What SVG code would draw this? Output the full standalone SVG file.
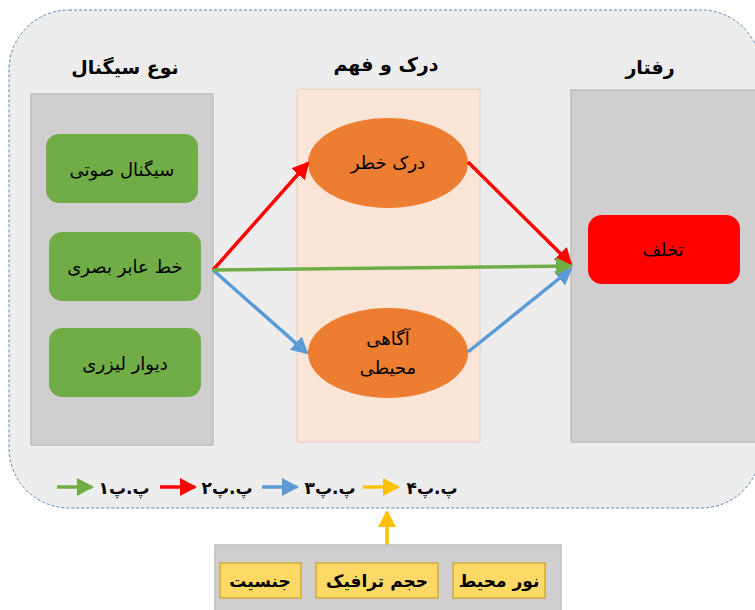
<svg xmlns="http://www.w3.org/2000/svg" width="755" height="610" viewBox="0 0 755 610">
<style>
.t{font-family:"DejaVu Sans","Noto Sans",sans-serif;fill:#000;text-anchor:middle;direction:rtl}
.h{font-size:19px;font-weight:bold}
.n{font-size:18px}
.b{font-size:17px;font-weight:bold}
.col{fill:#d0cece;stroke:#bfbfbf;stroke-width:1.5}
.grn{fill:#70ad47}
.ell{fill:#ed7d31}
.yel{fill:#ffd966;stroke:#c9a227;stroke-width:1.2}
.ln{fill:none;stroke-width:3.5}
</style>
<defs>
<marker id="mr" markerUnits="userSpaceOnUse" markerWidth="20" markerHeight="20" refX="15" refY="10" orient="auto"><path d="M0,1 L17,10 L0,19 z" fill="#ff0000"/></marker>
<marker id="mb" markerUnits="userSpaceOnUse" markerWidth="20" markerHeight="20" refX="15" refY="10" orient="auto"><path d="M0,1 L17,10 L0,19 z" fill="#5b9bd5"/></marker>
<marker id="mg" markerUnits="userSpaceOnUse" markerWidth="20" markerHeight="20" refX="15" refY="10" orient="auto"><path d="M0,1 L17,10 L0,19 z" fill="#70ad47"/></marker>
<marker id="my" markerUnits="userSpaceOnUse" markerWidth="20" markerHeight="20" refX="15" refY="10" orient="auto"><path d="M0,1 L17,10 L0,19 z" fill="#ffc000"/></marker>
</defs>
<rect width="755" height="610" fill="#ffffff"/>
<g id="frame">
<rect x="9" y="10" width="752" height="498" rx="60" ry="60" fill="#ededed" stroke="#5b86b0" stroke-width="1" stroke-dasharray="3,2"/>
</g>
<g id="headers">
<text class="t h" x="125" y="74">نوع سیگنال</text>
<text class="t h" x="386" y="71">درک و فهم</text>
<text class="t h" x="650" y="74">رفتار</text>
</g>
<g id="col-signal"><rect class="col" x="31" y="94" width="182" height="351"/></g>
<g id="col-perception"><rect x="297" y="89" width="183" height="353" fill="#fbe5d6" stroke="#e0cfc2" stroke-width="1"/></g>
<g id="col-behavior"><rect class="col" x="571" y="90" width="190" height="352"/></g>
<g id="n-audio"><rect class="grn" x="46" y="134" width="152" height="69" rx="13"/><text class="t n" x="122" y="176">سیگنال صوتی</text></g>
<g id="n-visual"><rect class="grn" x="49" y="232" width="152" height="69" rx="13"/><text class="t n" x="125" y="273">خط عابر بصری</text></g>
<g id="n-laser"><rect class="grn" x="49" y="328" width="152" height="69" rx="13"/><text class="t n" x="125" y="370">دیوار لیزری</text></g>
<g id="n-risk"><ellipse class="ell" cx="388" cy="163" rx="80" ry="45"/><text class="t n" x="388" y="169">درک خطر</text></g>
<g id="n-aware"><ellipse class="ell" cx="388" cy="353" rx="80" ry="45"/><text class="t n" x="388" y="345">آگاهی</text><text class="t n" x="388" y="374">محیطی</text></g>
<g id="n-violation"><rect x="588" y="215" width="152" height="69" rx="14" fill="#ff0000"/><text class="t n" x="663" y="256">تخلف</text></g>
<g id="connectors">
<line class="ln" x1="213" y1="270" x2="308" y2="163" stroke="#ff0000" marker-end="url(#mr)"/>
<line class="ln" x1="213" y1="270" x2="307" y2="353" stroke="#5b9bd5" marker-end="url(#mb)"/>
<line class="ln" x1="468" y1="162" x2="571" y2="264" stroke="#ff0000" marker-end="url(#mr)"/>
<line class="ln" x1="468" y1="352" x2="571" y2="269" stroke="#5b9bd5" marker-end="url(#mb)"/>
<line class="ln" x1="213" y1="270" x2="571" y2="266" stroke="#70ad47" marker-end="url(#mg)"/>
<line class="ln" x1="387" y1="545" x2="387" y2="512" stroke="#ffc000" marker-end="url(#my)"/>
</g>
<g id="legend">
<line class="ln" x1="57" y1="487" x2="92" y2="487" stroke="#70ad47" marker-end="url(#mg)"/>
<text class="t b" x="124" y="494">پ.پ۱</text>
<line class="ln" x1="160" y1="487" x2="195" y2="487" stroke="#ff0000" marker-end="url(#mr)"/>
<text class="t b" x="227" y="494">پ.پ۲</text>
<line class="ln" x1="262" y1="487" x2="297" y2="487" stroke="#5b9bd5" marker-end="url(#mb)"/>
<text class="t b" x="330" y="494">پ.پ۳</text>
<line class="ln" x1="363" y1="487" x2="398" y2="487" stroke="#ffc000" marker-end="url(#my)"/>
<text class="t b" x="432" y="494">پ.پ۴</text>
</g>
<g id="factors"><rect class="col" x="215" y="545" width="346" height="70"/></g>
<g id="f-gender"><rect class="yel" x="220" y="563" width="81" height="35"/><text class="t b" x="260" y="587">جنسیت</text></g>
<g id="f-traffic"><rect class="yel" x="316" y="563" width="122" height="35"/><text class="t b" x="377" y="587">حجم ترافیک</text></g>
<g id="f-light"><rect class="yel" x="453" y="563" width="92" height="35"/><text class="t b" x="499" y="587">نور محیط</text></g>
</svg>
